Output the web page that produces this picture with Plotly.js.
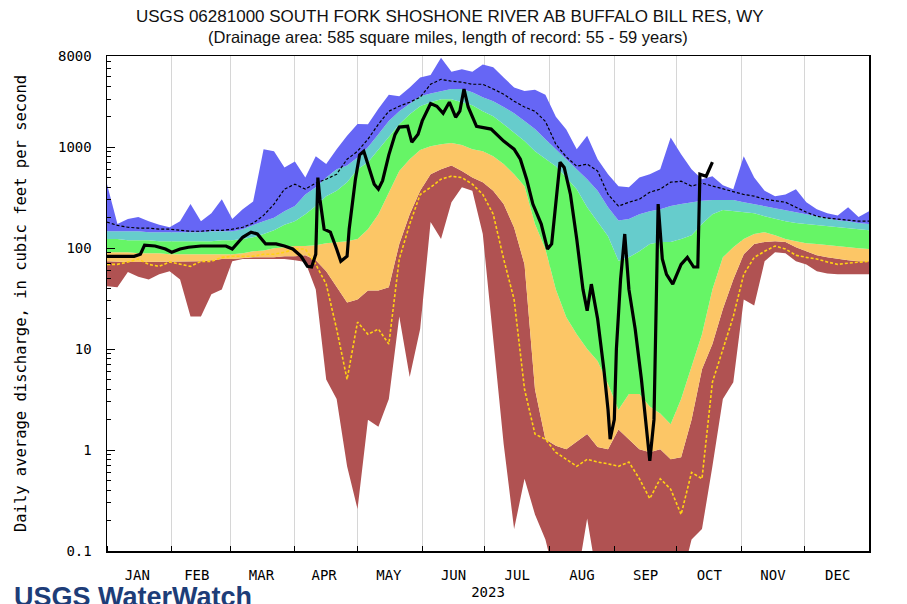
<!DOCTYPE html>
<html>
<head>
<meta charset="utf-8">
<script src="https://cdn.plot.ly/plotly-3.0.1.min.js"></script>
<style>
html,body{margin:0;padding:0;background:#fff;}
#chart{width:907px;height:604px;}
</style>
</head>
<body>
<div id="chart"></div>
<script>
// ---- Data (day of year) ----
const days = [0,5,10,15,20,25,30,35,40,45,50,55,60,65,70,75,80,85,90,95,100,105,110,115,120,125,130,135,140,145,150,155,160,165,170,175,180,185,190,195,200,205,210,215,220,225,230,235,240,245,250,255,260,265,270,275,280,285,290,295,300,305,310,315,320,325,330,335,340,345,350,355,360,365];

const maxFlow = [430,173,194,203,185,170,161,185,273,185,
  222,305,194,243,290,955,910,630,720,500,
  814,680,955,1300,1700,1690,2400,3300,3200,3900,
  4900,5200,7700,5600,5900,5600,6600,6200,4900,3900,
  3600,3700,3300,2000,1500,955,1300,760,540,411,
  400,500,540,605,1250,850,605,480,516,420,
  384,814,500,370,327,340,384,285,243,222,
  211,254,203,232];

const p90 = [147,147,147,147,144,144,144,144,144,144,
  147,147,147,154,170,185,200,232,261,340,
  400,500,605,660,790,1000,1340,1820,2270,2700,
  3200,3400,3600,3770,3770,3500,3120,2850,2500,2170,
  1820,1510,1200,955,760,605,482,370,254,188,
  194,217,232,243,261,273,285,295,300,300,
  300,285,273,261,250,238,227,217,207,198,
  189,185,177,173];

const p75 = [123,123,120,120,120,117,117,117,117,117,
  117,120,120,123,128,138,150,170,185,217,
  261,327,370,450,605,710,955,1290,1690,2120,
  2545,2790,2990,2990,2790,2600,2270,2020,1690,1400,
  1150,910,760,648,500,384,254,181,131,75,
  81,93,110,115,115,123,134,173,217,238,
  232,227,222,207,194,185,177,173,170,165,
  161,158,154,150];

const p25 = [91,91,91,89,89,89,87,87,87,87,
  87,87,87,89,93,95,100,102,105,105,
  107,112,115,117,123,154,217,358,580,760,
  935,1020,1070,1100,1050,955,910,814,680,540,
  411,173,98,39,20.7,14,10,7.6,4.5,2.5,
  3.6,3.6,2.7,2.3,1.8,3.2,6.6,14,39,81,
  102,123,138,144,134,123,117,112,110,107,
  105,102,100,98];

const p10 = [74,73,73,73,73,73,73,74,74,74,
  76,78,78,80,81,81,81,83,83,85,
  76,59,42,29,31,38,38,41,110,217,
  370,540,605,660,580,500,450,370,273,160,
  69,4,1.28,1.1,1.02,1.2,1.44,1.07,1.02,1.6,
  1.28,1.02,0.95,1.02,0.81,0.85,2.0,6.3,11.2,25,
  49,87,110,115,117,115,102,93,85,81,
  78,76,74,74];

const minFlow = [42,41,58,52,49,55,59,49,21,21,
  35,39,74,78,78,78,78,78,76,73,
  39,5,3.2,0.69,0.26,2,1.7,3.2,21,5.3,
  15.8,181,123,285,400,370,138,12.6,1.15,0.165,
  0.52,0.23,0.13,0.05,0.05,0.05,0.21,0.05,0.05,0.05,
  0.05,0.05,0.05,0.05,0.05,0.05,0.13,0.165,0.69,3.2,
  4.7,31,27,74,91,89,74,69,59,56,
  55,55,55,55];

const meanFlow = [181,168,161,158,158,154,154,150,147,147,
  150,150,154,161,177,211,273,384,430,384,
  440,482,540,760,910,1200,1690,2270,2545,2790,
  3120,4200,4700,4500,4400,4200,4200,3770,3350,2850,
  2500,2270,1800,1070,800,648,680,580,340,261,
  285,305,358,384,450,460,411,440,411,384,
  358,340,327,305,295,285,254,227,207,198,
  194,189,185,185];

const yellowLine = [69,69,73,78,69,66,73,69,66,74,
  74,81,83,83,83,87,87,91,98,98,
  69,44,15.8,5,18.5,14,15.8,11.2,78,173,
  340,400,482,516,500,430,340,217,78,31,
  4,1.44,1.28,0.95,0.81,0.69,0.81,0.76,0.73,0.69,
  0.76,0.52,0.33,0.52,0.41,0.23,0.6,0.52,4.7,10,
  21,55,81,93,105,98,85,81,78,73,
  69,71,73,74];

const obsDays = [0,13,16,18,23,28,31,35,39,45,
  52,57,60,65,69,72,76,81,85,89,
  93,96,98,100,101,102,104,107,110,112,
  115,116,119,121,123,125,128,130,132,135,
  138,140,144,146,149,151,155,158,161,164,
  167,169,171,173,177,184,190,195,198,201,
  204,208,211,213,215,217,219,222,225,228,
  230,232,235,238,240,241,243,244,246,248,
  250,253,256,258,260,262,263,264,266,268,
  271,275,278,281,283,284,287,289,290];

const obsFlow = [83,83,87,107,105,98,91,98,102,105,
  105,105,98,128,144,138,110,110,105,98,
  83,66,65,87,500,305,154,144,98,74,
  83,154,482,840,910,680,430,384,465,840,
  1340,1580,1610,1120,1340,1820,2700,2545,2170,2790,
  1980,2270,3770,2500,1610,1510,1150,955,760,482,
  273,173,98,110,273,710,630,340,123,39,
  24,44,20,6.3,2.5,1.28,2,10,49,138,
  39,15.8,5,2,0.78,2,20,273,78,55,
  44,69,81,65,65,540,516,648,710];

const monthStarts = [0,31,59,90,120,151,181,212,243,273,304,334];
const monthMids = [14.5,43,74,104,135,166,196.5,227.5,258,288.5,319,350];
const monthLabels = ['JAN','FEB','MAR','APR','MAY','JUN','JUL','AUG','SEP','OCT','NOV','DEC'];
const yTickVals = [0.1,1,10,100,1000,8000];
const yTickText = ['0.1','1','10','100','1000','8000'];

const titleLine1 = 'USGS 06281000 SOUTH FORK SHOSHONE RIVER AB BUFFALO BILL RES, WY';
const titleLine2 = '(Drainage area: 585 square miles, length of record: 55 - 59 years)';

// ---- Styles ----
const C = {
  blue:'rgb(102,102,245)', cyan:'rgb(102,204,204)', green:'rgb(102,245,102)',
  orange:'rgb(252,198,102)', brown:'rgb(176,82,82)', yellow:'rgb(255,210,20)'
};
const mono = 'DejaVu Sans Mono, Liberation Mono, monospace';
const sans = 'Liberation Sans, Arial, sans-serif';

function band(y, color){
  return {x: days, y: y, type:'scatter', mode:'lines', fill:'tonexty',
    fillcolor: color, line:{width:0, color: color}, hoverinfo:'skip', showlegend:false};
}

const traces = [
  {x: days, y: minFlow, type:'scatter', mode:'lines', line:{width:0, color:C.brown}, showlegend:false, hoverinfo:'skip'},
  band(p10, C.brown),
  band(p25, C.orange),
  band(p75, C.green),
  band(p90, C.cyan),
  band(maxFlow, C.blue),
  {x: days, y: yellowLine, type:'scatter', mode:'lines', line:{color:C.yellow, width:1.6, dash:'3px,2px'}, showlegend:false},
  {x: days, y: meanFlow, type:'scatter', mode:'lines', line:{color:'#000', width:1.2, dash:'3px,2px'}, showlegend:false},
  {x: obsDays, y: obsFlow, type:'scatter', mode:'lines', line:{color:'#000', width:3.2}, showlegend:false}
];

const minorY = [];
[0.1,1,10,100,1000].forEach(d => { for (let k=2;k<=9;k++){ if (d*k<8000) minorY.push(d*k); } });

const layout = {
  width:907, height:604,
  margin:{l:107, r:38, t:56, b:53, pad:0},
  paper_bgcolor:'#fff', plot_bgcolor:'#fff',
  showlegend:false,
  xaxis:{
    range:[0,365], showgrid:false, zeroline:false,
    tickmode:'array', tickvals:monthMids, ticktext:monthLabels, ticks:'',
    tickfont:{family:mono, size:14, color:'#000'},
    ticklabelstandoff:11,
    showline:true, linecolor:'#000', linewidth:1.5, mirror:true,
    minor:{tickmode:'array', tickvals:monthStarts, ticks:'inside', ticklen:5, tickcolor:'#000',
      showgrid:true, gridcolor:'#d6d6d6', gridwidth:1},
    title:{text:'2023', font:{family:mono, size:14, color:'#000'}, standoff:5}
  },
  yaxis:{
    type:'log', range:[-1, Math.log10(8000)],
    tickmode:'array', tickvals:yTickVals, ticktext:yTickText,
    ticks:'inside', ticklen:8, tickcolor:'#000',
    tickfont:{family:mono, size:14, color:'#000'},
    ticklabelstandoff:11,
    showgrid:false, zeroline:false,
    showline:true, linecolor:'#000', linewidth:1.5, mirror:true,
    minor:{tickmode:'array', tickvals:minorY, ticks:'inside', ticklen:4, tickcolor:'#000', showgrid:false},
    title:{text:'Daily average discharge, in cubic feet per second', font:{family:mono, size:15.5, color:'#000'}, standoff:27}
  },
  annotations:[
    {text:titleLine1, xref:'paper', yref:'paper', x:(450-107)/762, y:(551-17)/495,
     xanchor:'center', yanchor:'middle', showarrow:false,
     font:{family:sans, size:17, color:'#111'}},
    {text:titleLine2, xref:'paper', yref:'paper', x:(448-107)/762, y:(551-37)/495,
     xanchor:'center', yanchor:'middle', showarrow:false,
     font:{family:sans, size:16.5, color:'#111'}},
    {text:'<b>USGS WaterWatch</b>', xref:'paper', yref:'paper', x:(12-107)/762, y:(551-580)/495,
     xanchor:'left', yanchor:'top', showarrow:false,
     font:{family:sans, size:27, color:'#1d3d78'}}
  ]
};

Plotly.newPlot('chart', traces, layout, {staticPlot:true, displayModeBar:false});
</script>
</body>
</html>
